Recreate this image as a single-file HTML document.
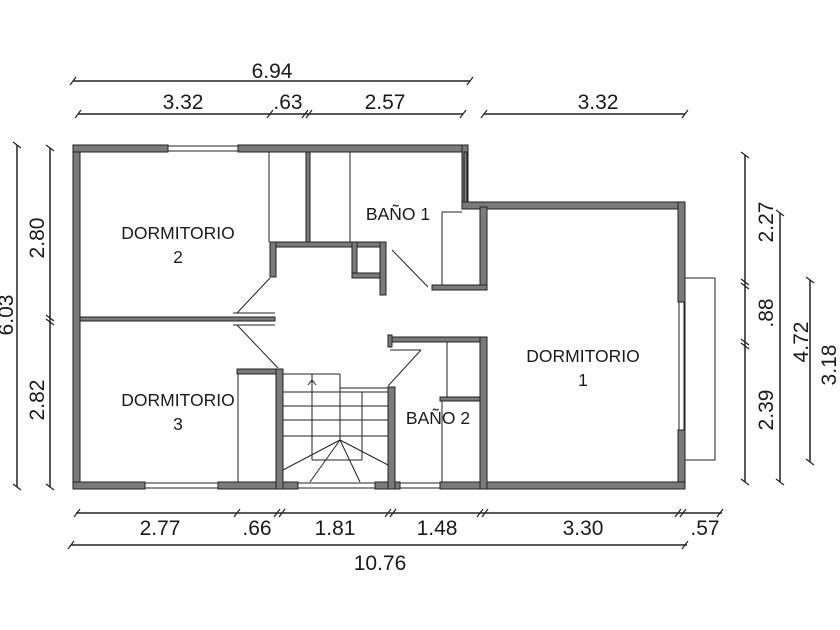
<!DOCTYPE html>
<html><head><meta charset="utf-8"><style>
html,body{margin:0;padding:0;background:#fff}
svg{display:block}
text{font-family:"Liberation Sans",sans-serif;fill:#1a1a1a}
</style></head><body>
<svg width="840" height="630" viewBox="0 0 840 630" xmlns="http://www.w3.org/2000/svg">
<g fill="#7a7a7a" stroke="#222" stroke-width="1">
<rect x="73" y="145" width="7" height="344"/>
<rect x="73" y="145" width="95" height="7"/>
<rect x="238" y="145" width="230" height="7"/>
<rect x="462" y="145" width="6" height="62"/>
<rect x="462" y="202" width="223" height="7"/>
<rect x="678" y="202" width="7" height="100"/>
<rect x="678" y="430" width="7" height="59"/>
<rect x="73" y="482" width="72" height="7"/>
<rect x="218" y="482" width="80" height="7"/>
<rect x="375" y="482" width="25" height="7"/>
<rect x="440" y="482" width="245" height="7"/>
<rect x="80" y="317" width="195" height="4"/>
<rect x="306" y="152" width="4" height="90"/>
<rect x="270" y="242" width="115" height="5"/>
<rect x="270" y="242" width="6" height="35"/>
<rect x="352" y="242" width="5" height="35"/>
<rect x="352" y="273" width="33" height="5"/>
<rect x="380" y="242" width="6" height="53"/>
<rect x="480" y="207" width="7" height="83"/>
<rect x="432" y="285" width="55" height="5"/>
<rect x="388" y="337" width="99" height="5"/>
<rect x="388" y="335" width="4" height="12"/>
<rect x="480" y="337" width="7" height="152"/>
<rect x="440" y="397" width="40" height="4"/>
<rect x="237" y="369" width="46" height="5"/>
<rect x="276" y="369" width="7" height="120"/>
<rect x="388" y="387" width="7" height="102"/>
</g>
<g fill="none" stroke="#222" stroke-width="1">
<rect x="168" y="146" width="70" height="5"/>
<rect x="145" y="483" width="73" height="5"/>
<rect x="298" y="483" width="77" height="5"/>
<rect x="400" y="483" width="40" height="5"/>
<rect x="679" y="302" width="5" height="128"/>
<rect x="685" y="278" width="30" height="182"/>
<rect x="464" y="152" width="3" height="50"/>
<line x1="269" y1="152" x2="269" y2="242"/>
<line x1="350" y1="152" x2="350" y2="242"/>
<line x1="442" y1="212" x2="442" y2="285"/>
<line x1="442" y1="212" x2="462" y2="212"/>
<line x1="238" y1="374" x2="238" y2="482"/>
<line x1="447" y1="342" x2="447" y2="397"/>
<line x1="442" y1="401" x2="442" y2="482"/>
<line x1="270" y1="278" x2="237" y2="313"/>
<line x1="237" y1="325" x2="278" y2="368"/>
<line x1="233" y1="313" x2="275" y2="313"/>
<line x1="233" y1="325" x2="275" y2="325"/>
<line x1="392" y1="250" x2="428" y2="287"/>
<line x1="421" y1="350" x2="388" y2="386"/>
<line x1="390" y1="350" x2="421" y2="350"/>
<line x1="283" y1="374" x2="340" y2="374"/>
<line x1="340" y1="374" x2="340" y2="388"/>
<line x1="340" y1="388" x2="388" y2="388"/>
<line x1="283" y1="392" x2="388" y2="392"/>
<line x1="283" y1="406" x2="388" y2="406"/>
<line x1="283" y1="420" x2="388" y2="420"/>
<line x1="283" y1="436" x2="388" y2="436"/>
<line x1="312" y1="374" x2="312" y2="460"/>
<line x1="362" y1="392" x2="362" y2="460"/>
<line x1="312" y1="460" x2="362" y2="460"/>
<line x1="340" y1="388" x2="340" y2="440"/>
<line x1="340" y1="440" x2="283" y2="470"/>
<line x1="340" y1="440" x2="310" y2="482"/>
<line x1="340" y1="440" x2="360" y2="482"/>
<line x1="340" y1="440" x2="388" y2="465"/>
<line x1="312" y1="380" x2="308" y2="385"/>
<line x1="312" y1="380" x2="316" y2="385"/>
</g>
<g stroke="#222" stroke-width="1.5" fill="none">
<line x1="73" y1="81" x2="470" y2="81"/>
<line x1="78" y1="114" x2="463" y2="114"/>
<line x1="484" y1="114" x2="685" y2="114"/>
<line x1="76" y1="513" x2="722" y2="513"/>
<line x1="71" y1="545" x2="687" y2="545"/>
<line x1="17" y1="145" x2="17" y2="487"/>
<line x1="50" y1="148" x2="50" y2="487"/>
<line x1="745" y1="155" x2="745" y2="482"/>
<line x1="780" y1="213" x2="780" y2="482"/>
<line x1="810" y1="280" x2="810" y2="462"/>
</g>
<g stroke="#222" stroke-width="1.2">
<path d="M70 85l6-8M467 85l6-8M75 118l6-8M267 118l6-8M302 118l6-8M306 118l6-8M460 118l6-8M481 118l6-8M682 118l6-8"/>
<path d="M74 517l6-8M234 517l6-8M274 517l6-8M279 517l6-8M385 517l6-8M390 517l6-8M477 517l6-8M482 517l6-8M675 517l6-8M680 517l6-8M717 517l6-8M68 549l6-8M682 549l6-8"/>
<path d="M13 142l8 6M13 484l8 6M46 145l8 6M46 315l8 6M46 319l8 6M46 484l8 6"/>
<path d="M741 152l8 6M741 279l8 6M741 283l8 6M741 339l8 6M741 343l8 6M741 479l8 6M776 210l8 6M776 479l8 6M806 277l8 6M806 459l8 6"/>
</g>
<g font-size="21" text-anchor="middle">
<text x="272" y="78">6.94</text>
<text x="183" y="109">3.32</text>
<text x="288" y="109">.63</text>
<text x="385" y="109">2.57</text>
<text x="598" y="109">3.32</text>
<text x="160" y="535">2.77</text>
<text x="257" y="535">.66</text>
<text x="335" y="535">1.81</text>
<text x="437" y="535">1.48</text>
<text x="583" y="535">3.30</text>
<text x="705" y="535">.57</text>
<text x="380" y="570">10.76</text>
<text transform="translate(13,315) rotate(-90)">6.03</text>
<text transform="translate(44,238) rotate(-90)">2.80</text>
<text transform="translate(44,400) rotate(-90)">2.82</text>
<text transform="translate(773,222) rotate(-90)">2.27</text>
<text transform="translate(773,313) rotate(-90)">.88</text>
<text transform="translate(773,410) rotate(-90)">2.39</text>
<text transform="translate(808,342) rotate(-90)">4.72</text>
<text transform="translate(836,365) rotate(-90)">3.18</text>
</g>
<g font-size="17.5" text-anchor="middle">
<text x="178" y="239">DORMITORIO</text>
<text x="178" y="263">2</text>
<text x="178" y="406">DORMITORIO</text>
<text x="178" y="430">3</text>
<text x="583" y="362">DORMITORIO</text>
<text x="583" y="386">1</text>
<text x="398" y="220">BAÑO 1</text>
<text x="438" y="424">BAÑO 2</text>
</g>
</svg>
</body></html>
